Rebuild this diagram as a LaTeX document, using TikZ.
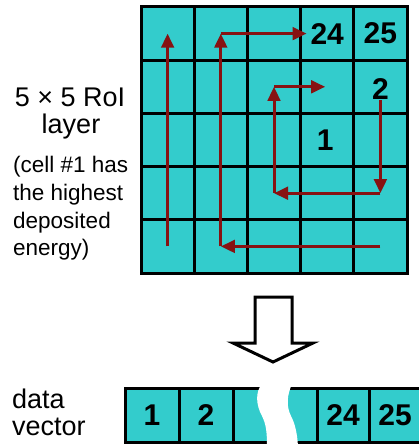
\documentclass[tikz,border=0pt]{standalone}
\usepackage{fontspec}
\setmainfont{Liberation Sans}
\usetikzlibrary{arrows.meta,calc}
\definecolor{cellcyan}{RGB}{51,204,204}
\definecolor{arrred}{RGB}{135,18,18}
\begin{document}
\begin{tikzpicture}[x=1pt,y=-1pt,
  cellbox/.style={draw=black,line width=3pt,fill=cellcyan,minimum width=53.2pt,minimum height=53.2pt,inner sep=0pt,outer sep=0pt},
  num/.style={inner sep=0pt,font=\bfseries\fontsize{30}{30}\selectfont},
  vecbox/.style={draw=black,line width=3pt,fill=cellcyan,minimum height=54pt,inner sep=0pt,outer sep=0pt,font=\bfseries\fontsize{30}{30}\selectfont},
  flow/.style={draw=arrred,line width=3pt,-{Triangle[length=14pt,width=12.5pt]}},
  lbl/.style={inner sep=0pt,font=\fontsize{27}{27}\selectfont},
  small/.style={inner sep=0pt,font=\fontsize{22.5}{22.5}\selectfont,anchor=base west}]
\useasboundingbox (0,0) rectangle (419,444);
\fill[white] (0,0) rectangle (419,444);
% grid
\foreach \c in {1,...,5}{\foreach \r in {1,...,5}{
  \node[cellbox] (c-\c-\r) at ({141+53.2*(\c-0.5)},{7+53.2*(\r-0.5)}) {};}}
\node[num] (n24) at (c-4-1) {24};
\node[num] (n25) at (c-5-1) {25};
\node[num] (n2) at ($(c-5-2)+(0,2)$) {2};
\node[num] (n1) at ($(c-4-3)+(-2,0)$) {1};
% scan path
\draw[flow] (c-1-5.center) -- (c-1-1.center);
\draw[flow] (c-5-5.center) -- (c-2-5.center);
\draw[flow] (c-2-5.center) -- (c-2-1.center);
\draw[flow] (c-2-1.center) -- ($(c-4-1.west)+(6,0)$);
\draw[flow] ($(c-5-2.center)+(0,13)$) -- (c-5-4.center);
\draw[flow] (c-5-4.center) -- (c-3-4.center);
\draw[flow] (c-3-4.center) -- (c-3-2.center);
\draw[flow] (c-3-2.center) -- ($(c-4-2.center)+(-2,0)$);
% left labels
\node[lbl,anchor=base] (t1) at (70,106) {5 × 5 RoI};
\node[lbl,anchor=base] (t2) at (71,133) {layer};
\node[small] (p1) at (13,172) {(cell \#1 has};
\node[small] (p2) at (13,200) {the highest};
\node[small] (p3) at (13,228) {deposited};
\node[small] (p4) at (13,255) {energy)};
% big outline arrow
\draw[line width=3pt,fill=white,line join=miter] (255,297) -- (292,297) -- (292,343) -- (313,343) -- (273,362) -- (233,343) -- (255,343) -- cycle;
% data vector
\node[vecbox,minimum width=54pt] (v1) at (152,415) {1};
\node[vecbox,minimum width=54pt] (v2) at (206,415) {2};
\node[vecbox,minimum width=84pt] (v3) at (275,415) {};
\node[vecbox,minimum width=52pt] (v24) at (343,415) {24};
\node[vecbox,minimum width=52pt] (v25) at (395,415) {25};
\fill[white] (262,384) .. controls (255,392) and (256,405) .. (262,416) .. controls (266,424) and (267,432) .. (267,446) -- (298,446) .. controls (297,432) and (295,424) .. (291,416) .. controls (286,406) and (287,395) .. (292,384) -- cycle;
\node[lbl,anchor=base west] (d1) at (12,408) {data};
\node[lbl,anchor=base west] (d2) at (12,435) {vector};
\end{tikzpicture}
\end{document}
